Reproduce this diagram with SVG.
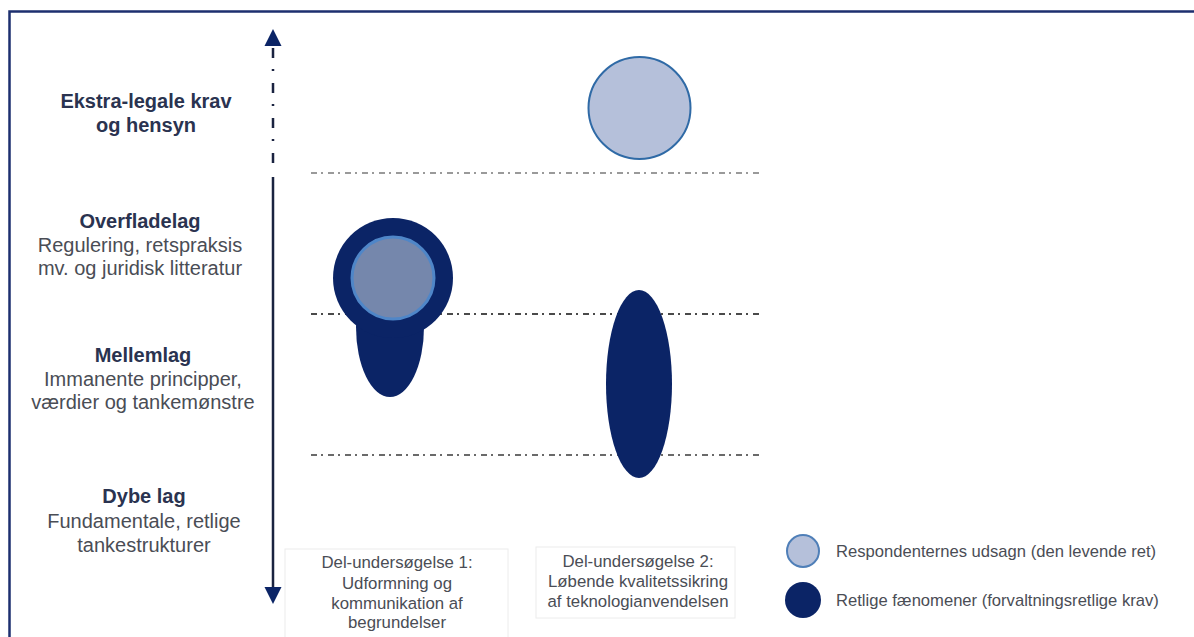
<svg xmlns="http://www.w3.org/2000/svg" width="1194" height="637" viewBox="0 0 1194 637">
<style>
.t{font-family:"Liberation Sans",Arial,sans-serif;font-size:20px;fill:#4a4d55;text-anchor:middle}
.b{font-weight:bold;fill:#2a3350}
.s{font-family:"Liberation Sans",Arial,sans-serif;font-size:16.8px;fill:#4a4d55;text-anchor:middle}
.l{font-family:"Liberation Sans",Arial,sans-serif;font-size:16.6px;fill:#4a4d55}
.navy{fill:#0b2466}
.dd{fill:none;stroke-width:2;stroke-dasharray:6 4 2 5}
</style>
<defs>
<marker id="ah" viewBox="0 0 10 10" refX="0" refY="5" markerWidth="17" markerHeight="18" markerUnits="userSpaceOnUse" orient="auto-start-reverse">
<path d="M0,0 L10,5 L0,10 Z" fill="#0b2466"/>
</marker>
</defs>
<rect x="0" y="0" width="1194" height="637" fill="#ffffff"/>
<path d="M9.5,640 V11.5 H1194" fill="none" stroke="#1d2f6f" stroke-width="2.5"/>

<g id="connectors">
<line x1="273" y1="46" x2="273" y2="170" stroke="#1a2340" stroke-width="2.5" stroke-dasharray="10 11 2 12" stroke-dashoffset="-2" marker-start="url(#ah)"/>
<line x1="273" y1="177" x2="273" y2="587" stroke="#1a2340" stroke-width="2.5" marker-end="url(#ah)"/>
<line x1="311" y1="173" x2="762" y2="173" class="dd" stroke="#9a9a9a"/>
<line x1="311" y1="314" x2="762" y2="314" class="dd" stroke="#4a4a4a"/>
<line x1="311" y1="455" x2="762" y2="455" class="dd" stroke="#6a6a6a"/>
</g>

<g id="label-ekstra">
<text class="t b" x="146" y="108">Ekstra-legale krav</text>
<text class="t b" x="146" y="132">og hensyn</text>
</g>
<g id="label-overflade">
<text class="t b" x="140" y="228">Overfladelag</text>
<text class="t" x="140" y="252">Regulering, retspraksis</text>
<text class="t" x="140" y="275">mv. og juridisk litteratur</text>
</g>
<g id="label-mellem">
<text class="t b" x="143" y="362">Mellemlag</text>
<text class="t" x="143" y="386">Immanente principper,</text>
<text class="t" x="143" y="409">værdier og tankemønstre</text>
</g>
<g id="label-dybe">
<text class="t b" x="144" y="503">Dybe lag</text>
<text class="t" x="144" y="528">Fundamentale, retlige</text>
<text class="t" x="144" y="552">tankestrukturer</text>
</g>

<g id="node-top-circle">
<circle cx="639.5" cy="108" r="51" fill="#b5c0da" stroke="#2f6aa6" stroke-width="2"/>
</g>

<g id="node-study1-shape">
<ellipse cx="390" cy="327" rx="34" ry="70" class="navy"/>
<circle cx="393" cy="278" r="60" class="navy"/>
<circle cx="393" cy="278" r="41" fill="#7587ac" stroke="#4f86c8" stroke-width="3"/>
</g>

<g id="node-study2-shape">
<ellipse cx="639" cy="384" rx="33" ry="94" class="navy"/>
</g>

<g id="box-study1">
<rect x="285" y="549" width="223" height="95" fill="none" stroke="#ececec" stroke-width="1"/>
<text class="s" x="397" y="568">Del-undersøgelse 1:</text>
<text class="s" x="397" y="589">Udformning og</text>
<text class="s" x="397" y="609">kommunikation af</text>
<text class="s" x="397" y="628">begrundelser</text>
</g>
<g id="box-study2">
<rect x="536" y="547" width="199" height="71" fill="none" stroke="#ececec" stroke-width="1"/>
<text class="s" x="638" y="567">Del-undersøgelse 2:</text>
<text class="s" x="638" y="587">Løbende kvalitetssikring</text>
<text class="s" x="638" y="607">af teknologianvendelsen</text>
</g>

<g id="legend">
<circle cx="803" cy="551" r="16" fill="#b5c0da" stroke="#4f7fb8" stroke-width="2"/>
<text class="l" x="836" y="557">Respondenternes udsagn (den levende ret)</text>
<circle cx="803" cy="600" r="18" class="navy"/>
<text class="l" x="836" y="606">Retlige fænomener (forvaltningsretlige krav)</text>
</g>
</svg>
